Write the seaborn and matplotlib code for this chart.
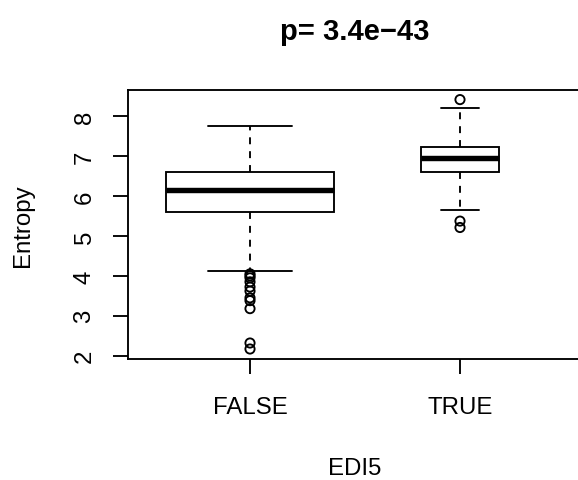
import matplotlib
matplotlib.use("Agg")
import matplotlib.pyplot as plt
import seaborn as sns
import pandas as pd

# ---- data ----
groups = ["FALSE", "TRUE"]
q1 = [5.60, 6.59]
median = [6.14, 6.94]
q3 = [6.61, 7.22]
whisker_low = [4.11, 5.64]
whisker_high = [7.74, 8.20]
outliers_false = [4.05, 4.00, 3.95, 3.85, 3.72, 3.62, 3.45, 3.38, 3.18, 2.32, 2.17]
outliers_true = [8.41, 5.37, 5.21]
y_ticks = [2, 3, 4, 5, 6, 7, 8]
title_text = "p= 3.4e\u221243"
x_label = "EDI5"
y_label = "Entropy"

sns.set_theme(style="white")
plt.rcParams["font.family"] = ["Liberation Sans", "DejaVu Sans"]

W, H = 578, 481
fig = plt.figure(figsize=(W / 100, H / 100), dpi=100)
left, right, top, bottom = 128, 582, 91, 360
ax = fig.add_axes([left / W, (H - bottom) / H, (right - left) / W, (bottom - top) / H])

lw = 1.35
positions = [1, 2]
widths = [0.8, 0.37]
stats = []
for i, g in enumerate(groups):
    stats.append(dict(label=g, q1=q1[i], med=median[i], q3=q3[i],
                      whislo=whisker_low[i], whishi=whisker_high[i], fliers=[]))
ax.bxp(stats, positions=positions, widths=widths,
       capwidths=[w / 2 for w in widths],
       showfliers=False, patch_artist=True,
       boxprops=dict(facecolor="white", edgecolor="black", linewidth=lw),
       medianprops=dict(color="black", linewidth=3.9, solid_capstyle="butt"),
       whiskerprops=dict(color="black", linewidth=lw, linestyle=(0, (3.7, 3.7))),
       capprops=dict(color="black", linewidth=lw))

out_df = pd.DataFrame({
    "x": [1] * len(outliers_false) + [2] * len(outliers_true),
    "y": outliers_false + outliers_true,
})
sns.scatterplot(data=out_df, x="x", y="y", ax=ax, marker="o", s=44,
                facecolors="none", edgecolor="black", linewidth=lw, zorder=5,
                legend=False)

ax.set_xlim(0.419, 2.581)
ax.set_ylim(1.92, 8.65)
ax.set_xticks(positions)
ax.set_xticklabels(groups)
ax.set_yticks(y_ticks)
ax.set_yticklabels([str(t) for t in y_ticks], rotation=90, va="center")
fs = 17.3
ax.tick_params(axis="both", which="both", direction="out", length=10.8, width=lw,
               color="black", labelsize=fs, labelcolor="black", left=True, bottom=True)
ax.tick_params(axis="y", pad=12.5)
ax.tick_params(axis="x", pad=16)
for s in ax.spines.values():
    s.set_color("black")
    s.set_linewidth(lw)

ax.set_xlabel(x_label, fontsize=fs, color="black")
ax.xaxis.label.set_va("center")
ax.xaxis.set_label_coords(0.5, (bottom - 469) / (bottom - top))
ax.set_ylabel(y_label, fontsize=fs, color="black")
ax.yaxis.label.set_va("center")
ax.yaxis.set_label_coords((23 - left) / (right - left), 0.5)

ax.set_title(title_text, fontsize=21, fontweight="bold", pad=37, color="black")

fig.savefig("out.png", dpi=100)
